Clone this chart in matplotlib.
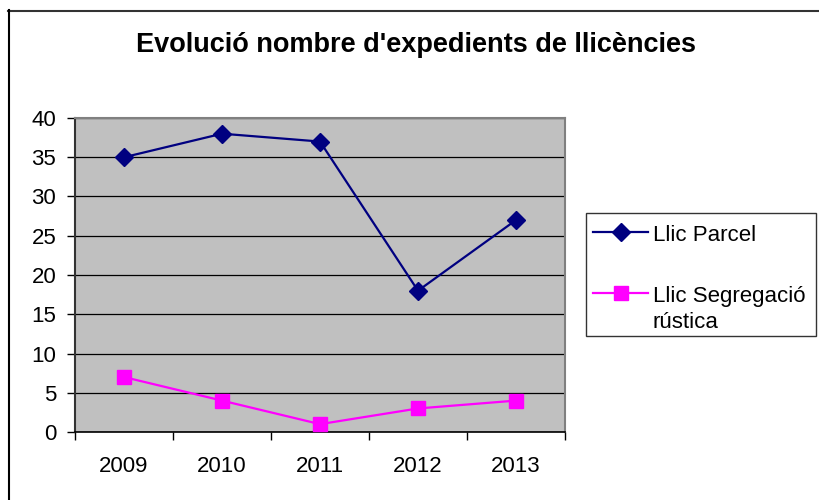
import matplotlib
matplotlib.use("Agg")
import matplotlib.pyplot as plt
from matplotlib.lines import Line2D
from matplotlib.patches import Rectangle

years = ["2009", "2010", "2011", "2012", "2013"]
llic_parcel = [35, 38, 37, 18, 27]
llic_segregacio = [7, 4, 1, 3, 4]
series_names = ["Llic Parcel", "Llic Segregació\nrústica"]
title = "Evolució nombre d'expedients de llicències"

plt.rcParams['font.family'] = ['Liberation Sans', 'DejaVu Sans']

W, H = 819, 500
fig = plt.figure(figsize=(W / 100, H / 100), dpi=100)
fig.patch.set_facecolor('white')

def fx(px):
    return px / W

def fy(py):
    return 1 - py / H

# outer chart border (top and left visible)
fig.add_artist(Line2D([fx(8), 1.0], [fy(10.5), fy(10.5)], color='#333333', lw=1.5))
fig.add_artist(Line2D([fx(8.5), fx(8.5)], [fy(10), 0.0], color='black', lw=1.5))

left, right, top, bottom = 75, 565, 118, 432
ax = fig.add_axes([fx(left), fy(bottom), fx(right) - fx(left), fy(top) - fy(bottom)])
ax.set_facecolor('#C0C0C0')

x = [i + 0.5 for i in range(len(years))]
ax.plot(x, llic_parcel, color='#000080', lw=1.6, marker='D', markersize=9,
        markerfacecolor='#000080', markeredgecolor='#000080', zorder=3, clip_on=False)
ax.plot(x, llic_segregacio, color='#FF00FF', lw=1.6, marker='s', markersize=10,
        markerfacecolor='#FF00FF', markeredgecolor='#FF00FF', zorder=3, clip_on=False)

FS = 16
ax.set_xlim(0, len(years))
ax.set_ylim(0, 40)
ax.set_yticks(range(0, 41, 5))
ax.set_xticks(range(0, len(years) + 1))
ax.set_xticklabels([])
ax.set_xticks(x, minor=True)
ax.set_xticklabels(years, minor=True)
ax.tick_params(axis='x', which='minor', length=0, pad=17, labelsize=FS)
ax.tick_params(axis='x', which='major', direction='out', length=6, width=1, color='black')
ax.tick_params(axis='y', direction='out', length=6, width=1, color='black', pad=7.5, labelsize=FS)

ax.yaxis.grid(True, color='black', lw=0.9)
ax.set_axisbelow(True)
for s in ['top', 'right']:
    ax.spines[s].set_color('#808080')
    ax.spines[s].set_linewidth(1.5)
ax.spines['left'].set_color('#333333')
ax.spines['left'].set_linewidth(1.5)
ax.spines['bottom'].set_color('black')
ax.spines['bottom'].set_linewidth(1.2)

fig.text(fx(416), fy(45), title, ha='center', va='center', fontsize=19.5, fontweight='bold')

# legend
lx0, ly0, lx1, ly1 = 586, 213, 816, 336
fig.add_artist(Rectangle((fx(lx0), fy(ly1)), fx(lx1) - fx(lx0), fy(ly0) - fy(ly1),
                         facecolor='white', edgecolor='#333333', lw=1.0))
entries = [(series_names[0], '#000080', 'D', 9, 232, 241),
           (series_names[1], '#FF00FF', 's', 10, 293, 302)]
for name, col, mk, ms, yy, base in entries:
    fig.add_artist(Line2D([fx(593), fx(648)], [fy(yy), fy(yy)], color=col, lw=1.6))
    fig.add_artist(Line2D([fx(620.5)], [fy(yy)], color=col, marker=mk, markersize=ms,
                          markerfacecolor=col, markeredgecolor=col))
    for k, line in enumerate(name.split("\n")):
        fig.text(fx(653), fy(base + 26.5 * k), line, ha='left', va='baseline', fontsize=FS)

fig.savefig('out.png', dpi=100)
